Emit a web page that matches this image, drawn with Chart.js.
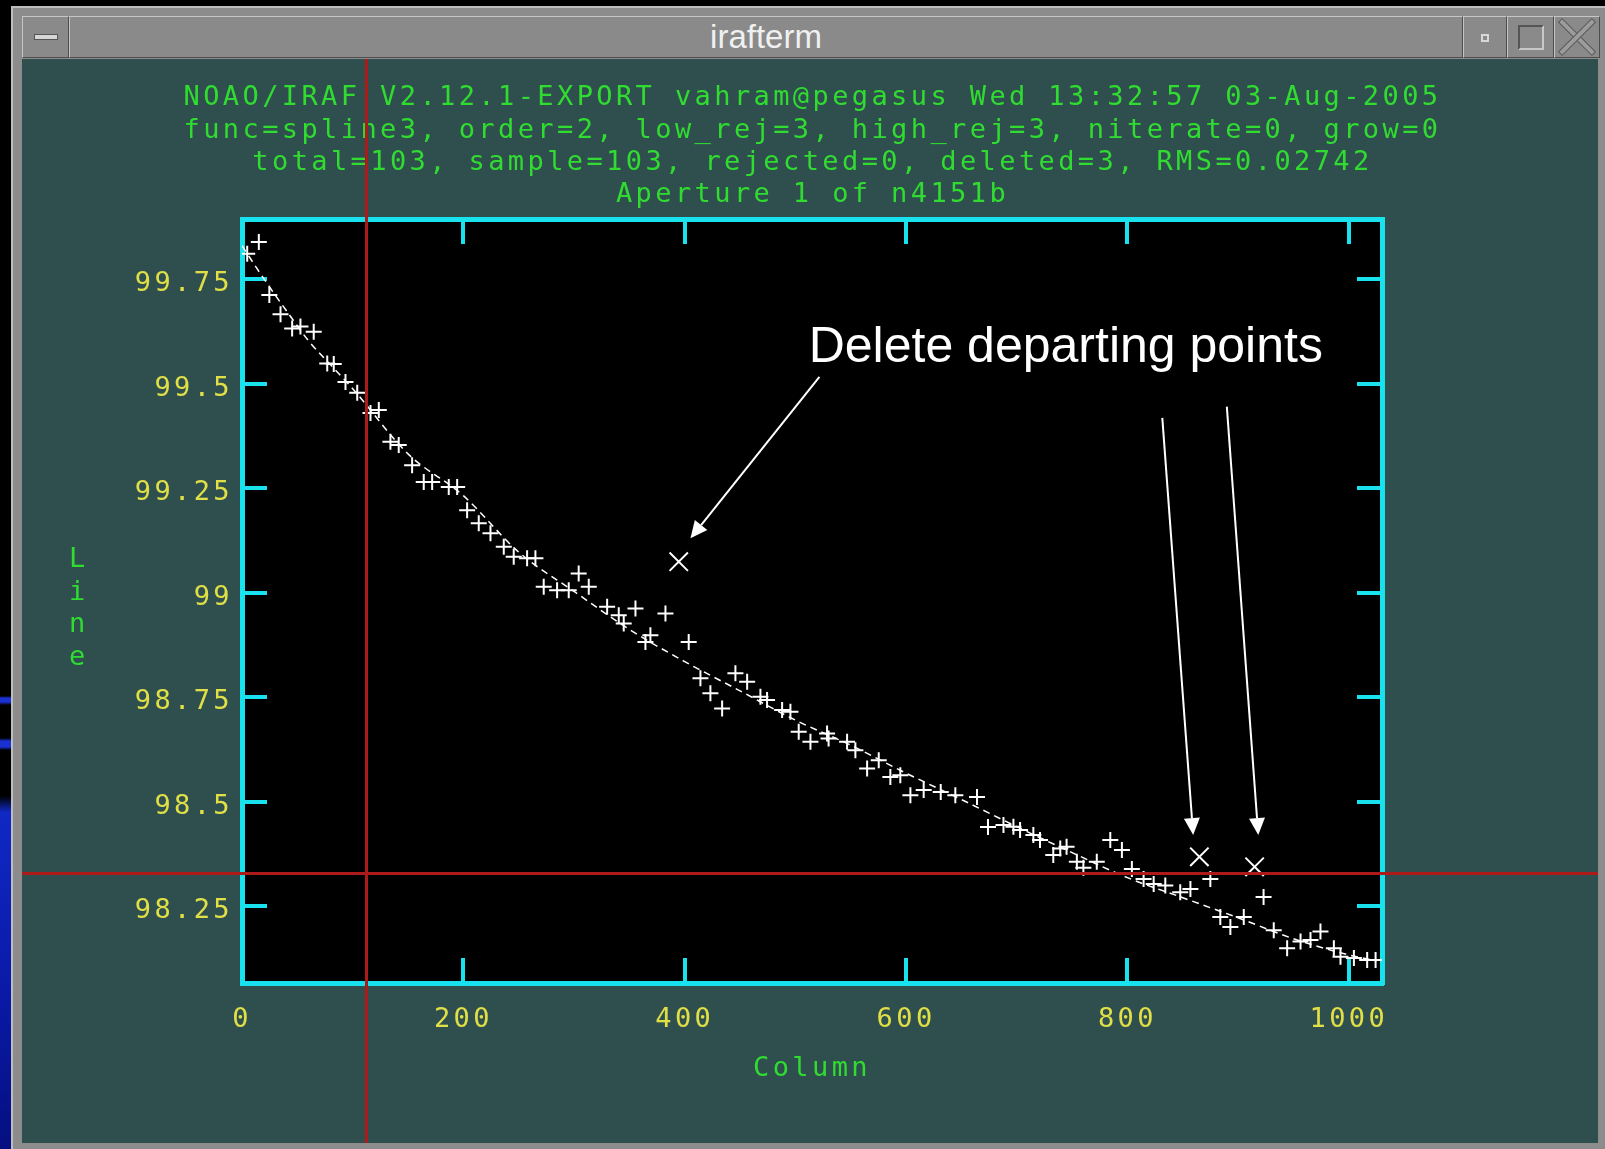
<!DOCTYPE html>
<html lang="en">
<head>
<meta charset="UTF-8">
<title>irafterm</title>
<script src="https://cdn.jsdelivr.net/npm/chart.js"></script>
<style>
  body { margin: 0; width: 1605px; height: 1149px; background: #000; overflow: hidden; position: relative;
         font-family: "Liberation Sans", Arial, sans-serif; }
  .abs { position: absolute; box-sizing: border-box; }
  #slide { left: 0; top: 688px; width: 11px; height: 461px;
    background: linear-gradient(180deg, #000 0, #000 8px, #1a30d0 10px, #1a30d0 14px, #000 17px, #000 50px,
      #1a30d0 53px, #1a30d0 59px, #000 62px, #000 108px, #1028c4 124px, #0a1aa8 300px, #050f80 461px); }
  #frame { left: 11px; top: 6px; width: 1594px; height: 1143px; background: #8c8c8c;
    border-top: 2px solid #bdbdbd; border-left: 2px solid #bdbdbd; }
  .bev { background: #8a8a8a; border: 1px solid; border-color: #c6c6c6 #4c4c4c #4c4c4c #c6c6c6; }
  #bar { left: 69px; top: 16px; width: 1394px; height: 42px; color: #f0f0f0; font-size: 33px;
    line-height: 40px; text-align: center; }
  #bmin { left: 22px; top: 16px; width: 47px; height: 42px; }
  #bico { left: 1463px; top: 16px; width: 44px; height: 42px; }
  #bmax { left: 1507px; top: 16px; width: 47px; height: 42px; }
  #bclose { left: 1554px; top: 16px; width: 46px; height: 42px; overflow: hidden; }
  #content { left: 22px; top: 59px; width: 1576px; height: 1084px; background: #2f4f4f; }
  #chart { position: absolute; left: 0; top: 0; }
</style>
</head>
<body>
<div id="slide" class="abs"></div>
<div id="frame" class="abs"></div>
<div id="bmin" class="abs bev"><div class="abs" style="left:11px;top:17px;width:24px;height:6px;background:#d6d6d6;border:1px solid #555"></div></div>
<div id="bar" class="abs bev">irafterm</div>
<div id="bico" class="abs bev"><div class="abs" style="left:17px;top:17px;width:8px;height:8px;border:2px solid #d8d8d8"></div></div>
<div id="bmax" class="abs bev"><div class="abs" style="left:10px;top:8px;width:26px;height:25px;border:2px solid #555;border-right-color:#c8c8c8;border-bottom-color:#c8c8c8"></div></div>
<div id="bclose" class="abs bev">
  <div class="abs" style="left:-2px;top:17px;width:48px;height:6px;background:#9c9c9c;border:1px solid #555;transform:rotate(45deg)"></div>
  <div class="abs" style="left:-2px;top:17px;width:48px;height:6px;background:#9c9c9c;border:1px solid #555;transform:rotate(-45deg)"></div>
</div>
<div id="content" class="abs"></div>
<canvas id="chart" width="1605" height="1149"></canvas>

<script>
// fitted points: column and line position
const colX = [4.7, 15.2, 24.7, 34.8, 45.3, 52.8, 64.8, 77.0, 82.9, 93.5,
  104.1, 116.1, 123.6, 134.1, 141.6, 153.7, 164.2, 171.8, 186.8, 194.4,
  203.4, 213.9, 224.5, 236.5, 245.5, 257.6, 265.1, 272.6, 284.7, 295.2,
  304.2, 313.3, 329.9, 340.4, 344.9, 355.5, 364.5, 369.0, 382.6, 403.6,
  414.2, 423.2, 433.8, 445.8, 456.4, 468.4, 474.4, 488.0, 495.5, 503.0,
  513.6, 528.6, 530.0, 546.7, 554.2, 564.8, 575.3, 585.8, 594.8, 603.9,
  615.9, 631.3, 644.5, 664.1, 674.0, 688.0, 697.0, 703.0, 715.0, 721.0,
  733.0, 739.3, 745.0, 754.3, 760.2, 772.3, 784.5, 795.0, 804.0, 814.6,
  823.7, 834.2, 847.7, 856.9, 874.9, 883.9, 893.0, 905.1, 923.0, 932.2,
  944.3, 956.4, 965.4, 974.4, 986.5, 992.5, 1004.6, 1016.6, 1024.2];
const lineY = [99.811, 99.839, 99.712, 99.666, 99.632, 99.637, 99.624, 99.548, 99.547, 99.504,
  99.478, 99.430, 99.437, 99.361, 99.353, 99.305, 99.265, 99.265, 99.253, 99.253,
  99.197, 99.166, 99.142, 99.110, 99.086, 99.082, 99.082, 99.014, 99.006, 99.006,
  99.046, 99.014, 98.966, 98.946, 98.926, 98.962, 98.882, 98.898, 98.950, 98.882,
  98.795, 98.759, 98.723, 98.807, 98.787, 98.751, 98.743, 98.719, 98.715, 98.667,
  98.643, 98.663, 98.651, 98.643, 98.623, 98.579, 98.599, 98.559, 98.563, 98.515,
  98.528, 98.523, 98.515, 98.511, 98.439, 98.444, 98.440, 98.432, 98.420, 98.408,
  98.372, 98.388, 98.392, 98.356, 98.342, 98.356, 98.408, 98.384, 98.339, 98.315,
  98.303, 98.299, 98.283, 98.291, 98.315, 98.224, 98.200, 98.224, 98.272, 98.192,
  98.149, 98.165, 98.169, 98.189, 98.149, 98.129, 98.126, 98.121, 98.121];

// points deleted from the fit
const delX = [394.6, 865.0, 914.9];
const delY = [99.074, 98.368, 98.344];

// spline3 fit
const fitX = [0, 20, 40, 60, 80, 100, 150, 200, 250, 300, 350, 400, 450, 500,
  550, 600, 650, 700, 750, 800, 850, 900, 950, 1000, 1025];
const fitY = [99.83, 99.75, 99.675, 99.603, 99.545, 99.488, 99.332, 99.232, 99.097, 99.003, 98.912, 98.835, 98.765, 98.695,
  98.635, 98.568, 98.505, 98.44, 98.378, 98.318, 98.27, 98.222, 98.172, 98.133, 98.119];

const colTicks = [0, 200, 400, 600, 800, 1000];
const colTickLabels = ['0', '200', '400', '600', '800', '1000'];
const lineTicks = [98.25, 98.5, 98.75, 99, 99.25, 99.5, 99.75];
const lineTickLabels = ['98.25', '98.5', '98.75', '99', '99.25', '99.5', '99.75'];

const headerLines = [
  'NOAO/IRAF V2.12.1-EXPORT vahram@pegasus Wed 13:32:57 03-Aug-2005',
  'func=spline3, order=2, low_rej=3, high_rej=3, niterate=0, grow=0',
  'total=103, sample=103, rejected=0, deleted=3, RMS=0.02742',
  'Aperture 1 of n4151b'
];
const note = 'Delete departing points';

// graphics cursor
const cursor = { x: 111.6, y: 98.329 };

const cyan = '#18e2ee', green = '#30dc30', yellow = '#e0e046';
const monoFamily = '"DejaVu Sans Mono", monospace';
const mono = { family: monoFamily, size: 27, lineHeight: 1.25 };
const tickMarks = { drawOnChartArea: false, drawTicks: true, tickLength: -25, color: cyan, lineWidth: 4 };
const edge = { display: true, color: cyan, width: 5 };
const setTicks = vals => s => { s.ticks = vals.map(v => ({ value: v })); };
const pts = (xs, ys) => xs.map((x, i) => ({ x: x, y: ys[i] }));

// note text and arrows, in data units
const noteAt = [512, 99.551];
const arrows = [
  [521.7, 99.516, 405.2, 99.130],
  [831.5, 99.418, 859.4, 98.420],
  [889.8, 99.445, 918.2, 98.420]
];

function drawArrow(ctx, x1, y1, x2, y2) {
  const a = Math.atan2(y2 - y1, x2 - x1), L = 17, W = 8;
  const bx = x2 - L * Math.cos(a), by = y2 - L * Math.sin(a);
  ctx.beginPath(); ctx.moveTo(x1, y1); ctx.lineTo(bx, by); ctx.stroke();
  ctx.beginPath(); ctx.moveTo(x2, y2);
  ctx.lineTo(bx + W * Math.sin(a), by - W * Math.cos(a));
  ctx.lineTo(bx - W * Math.sin(a), by + W * Math.cos(a));
  ctx.closePath(); ctx.fill();
}

const overlay = {
  id: 'irafOverlay',
  beforeDraw(chart) {
    const { ctx, chartArea: a } = chart;
    // black graph viewport
    ctx.fillStyle = '#000';
    ctx.fillRect(a.left, a.top, a.right - a.left, a.bottom - a.top);
    ctx.letterSpacing = '3.4px';
  },
  afterDraw(chart) {
    const { ctx, chartArea, scales: { x, y } } = chart;
    ctx.save();

    // "Line" written down the left side, one letter per row
    ctx.fillStyle = green;
    ctx.font = '27px ' + monoFamily;
    ctx.textAlign = 'left';
    ctx.textBaseline = 'middle';
    const mid = (chartArea.top + chartArea.bottom) / 2 + 8;
    'Line'.split('').forEach((ch, i) => ctx.fillText(ch, 69, mid + (i - 1.5) * 32.5));

    // note and arrows
    ctx.letterSpacing = '0px';
    ctx.fillStyle = '#fff';
    ctx.strokeStyle = '#fff';
    ctx.lineWidth = 2;
    ctx.font = '50px "Liberation Sans", Arial, sans-serif';
    ctx.textBaseline = 'alphabetic';
    ctx.fillText(note, x.getPixelForValue(noteAt[0]), y.getPixelForValue(noteAt[1]));
    arrows.forEach(a => drawArrow(ctx,
      x.getPixelForValue(a[0]), y.getPixelForValue(a[1]),
      x.getPixelForValue(a[2]), y.getPixelForValue(a[3])));

    // red crosshair cursor across the whole terminal
    const cx = Math.round(x.getPixelForValue(cursor.x)) + 0.5;
    const cy = Math.round(y.getPixelForValue(cursor.y)) + 0.5;
    ctx.strokeStyle = '#ad1a1a';
    ctx.lineWidth = 3;
    ctx.beginPath();
    ctx.moveTo(cx, 59); ctx.lineTo(cx, 1143);
    ctx.moveTo(22, cy); ctx.lineTo(1598, cy);
    ctx.stroke();
    ctx.restore();
  }
};

new Chart(document.getElementById('chart'), {
  type: 'scatter',
  data: {
    datasets: [
      { data: pts(colX, lineY), pointStyle: 'cross', pointRadius: 8, borderColor: '#fff', pointBorderWidth: 2 },
      { data: pts(delX, delY), pointStyle: 'crossRot', pointRadius: 13, borderColor: '#fff', pointBorderWidth: 2 },
      { data: pts(fitX, fitY), showLine: true, pointRadius: 0, borderColor: '#fff', borderWidth: 1.5,
        borderDash: [7, 5], cubicInterpolationMode: 'monotone' }
    ]
  },
  options: {
    responsive: false,
    animation: false,
    devicePixelRatio: 1,
    events: [],
    layout: { padding: { left: 20, right: 0, top: 0, bottom: 0 } },
    plugins: {
      legend: { display: false },
      tooltip: { enabled: false },
      title: {
        display: true, text: headerLines, color: green,
        font: { family: monoFamily, size: 27, lineHeight: 1.2, weight: 'normal' },
        padding: { top: 82, bottom: 0 }
      }
    },
    scales: {
      x: {
        type: 'linear', position: 'bottom', min: 0, max: 1030,
        afterBuildTicks: setTicks(colTicks),
        afterFit: s => { s.height = 166; },
        ticks: { color: yellow, font: mono, padding: 45.6, autoSkip: false, maxRotation: 0,
                 callback: (v, i) => colTickLabels[i] },
        grid: tickMarks, border: edge,
        title: { display: true, text: 'Column', color: green, font: mono, padding: { top: 0, bottom: 63.5 } }
      },
      x2: {
        type: 'linear', position: 'top', min: 0, max: 1030,
        afterBuildTicks: setTicks(colTicks),
        afterFit: s => { s.height = 7.4; },
        ticks: { display: false },
        grid: tickMarks, border: edge
      },
      y: {
        type: 'linear', position: 'left', min: 98.066, max: 99.894,
        afterBuildTicks: setTicks(lineTicks),
        afterFit: s => { s.width = 222; },
        ticks: { color: yellow, font: mono, padding: 34, labelOffset: 5, autoSkip: false,
                 callback: (v, i) => lineTickLabels[i] },
        grid: tickMarks, border: edge
      },
      y2: {
        type: 'linear', position: 'right', min: 98.066, max: 99.894,
        afterBuildTicks: setTicks(lineTicks),
        afterFit: s => { s.width = 223; },
        ticks: { display: false },
        grid: tickMarks, border: edge
      }
    }
  },
  plugins: [overlay]
});
</script>
</body>
</html>
